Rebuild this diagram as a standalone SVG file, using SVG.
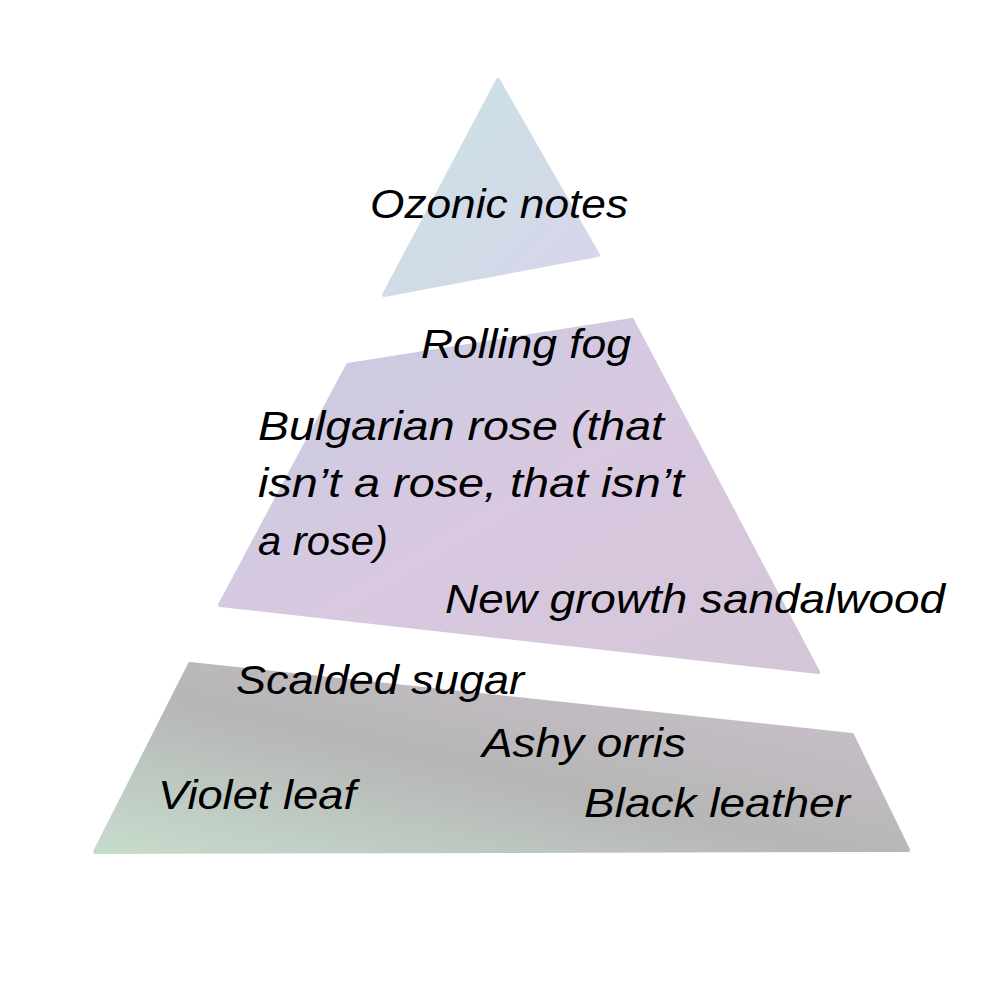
<svg xmlns="http://www.w3.org/2000/svg" width="1000" height="1000" viewBox="0 0 1000 1000">
<defs>
<linearGradient id="gTop" x1="0" y1="0" x2="1" y2="1"><stop offset="0" stop-color="#c8e4e4"/><stop offset="1" stop-color="#d8d4ea"/></linearGradient>
<linearGradient id="gMid" x1="0" y1="0" x2="1" y2="1"><stop offset="0" stop-color="#c6cde0"/><stop offset="0.5" stop-color="#d8c8e0"/><stop offset="1" stop-color="#d4c6d8"/></linearGradient>
<linearGradient id="gBot" x1="0" y1="1" x2="1" y2="0"><stop offset="0" stop-color="#c6dccc"/><stop offset="0.45" stop-color="#b6b6b6"/><stop offset="1" stop-color="#cfc2d0"/></linearGradient>
<style>text{font-family:"Liberation Sans",Arial,sans-serif;font-style:italic;font-size:40px;fill:#000}</style>
</defs>
<rect width="1000" height="1000" fill="#fff"/>
<g id="tier-top"><polygon points="498,80 598,255 384,295" fill="url(#gTop)" stroke="url(#gTop)" stroke-width="4" stroke-linejoin="round"/>
<text x="370" y="218" textLength="258" lengthAdjust="spacingAndGlyphs">Ozonic notes</text></g>
<g id="tier-middle"><polygon points="348,365 632,320 818,672 220,605" fill="url(#gMid)" stroke="url(#gMid)" stroke-width="4" stroke-linejoin="round"/>
<text x="421" y="358" textLength="210" lengthAdjust="spacingAndGlyphs">Rolling fog</text>
<text x="258" y="440" textLength="406" lengthAdjust="spacingAndGlyphs">Bulgarian rose (that</text>
<text x="258" y="497" textLength="426" lengthAdjust="spacingAndGlyphs">isn’t a rose, that isn’t</text>
<text x="258" y="555" textLength="130" lengthAdjust="spacingAndGlyphs">a rose)</text>
<text x="445" y="613" textLength="500" lengthAdjust="spacingAndGlyphs">New growth sandalwood</text></g>
<g id="tier-bottom"><polygon points="190,664 852,735 908,850 95,852" fill="url(#gBot)" stroke="url(#gBot)" stroke-width="4" stroke-linejoin="round"/>
<text x="236" y="694" textLength="288" lengthAdjust="spacingAndGlyphs">Scalded sugar</text>
<text x="482" y="757" textLength="204" lengthAdjust="spacingAndGlyphs">Ashy orris</text>
<text x="158" y="809" textLength="198" lengthAdjust="spacingAndGlyphs">Violet leaf</text>
<text x="584" y="817" textLength="266" lengthAdjust="spacingAndGlyphs">Black leather</text></g>
</svg>
